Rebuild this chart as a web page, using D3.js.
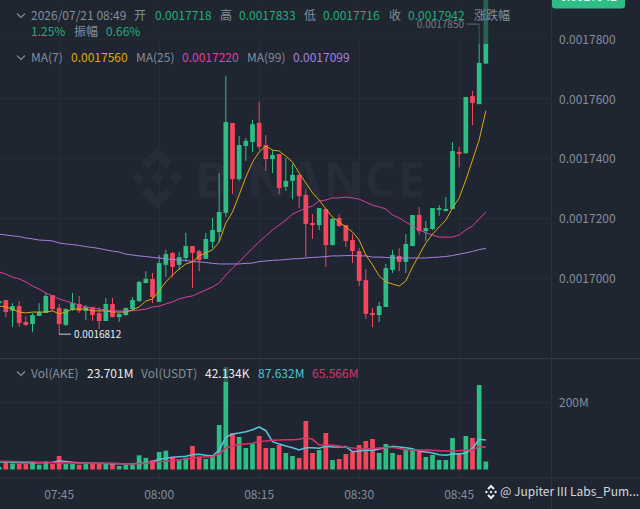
<!DOCTYPE html>
<html lang="en">
<head>
<meta charset="UTF-8">
<title>AKE/USDT 1m</title>
<style>
    html, body { margin: 0; padding: 0; background: #1f2631; overflow: hidden; }
    svg { display: block; }
    text { font-family: "Noto Sans CJK SC", "Noto Sans", sans-serif; }
    .axis path { display: none; }
    .axis line { stroke: #272e39; shape-rendering: crispEdges; }
    .axis text { fill: #848e9c; font-size: 12px; }
</style>
</head>
<body>
<svg id="chart" width="640" height="509"></svg>
<script src="https://d3js.org/d3.v7.min.js"></script>
<script>
// prices are in units of 0.0000001, one entry per minute starting at 07:36
const firstMinute = 456;
const opens = [16916,16926,16890,16906,16853,16846,16873,16883,16943,16900,16843,16893,16913,16890,16903,16883,16856,16913,16869,16876,16896,16923,16983,16997,16920,17044,17084,17044,17067,17107,17090,17064,17121,17154,17218,17519,17331,17442,17455,17519,17445,17398,17415,17305,17325,17345,17278,17184,17177,17231,17110,17201,17177,17127,17090,16993,16883,16876,16903,17027,17074,17054,17107,17211,17157,17164,17228,17224,17231,17422,17418,17609,17582,17718];
const highs = [16926,16926,16916,16923,16873,16883,16916,16950,16943,16913,16900,16950,16940,16910,16903,16903,16933,16933,16883,16900,16936,16990,17023,17017,17077,17094,17087,17087,17151,17107,17094,17151,17201,17351,17676,17519,17475,17469,17529,17589,17479,17428,17415,17402,17382,17345,17298,17214,17234,17231,17201,17214,17177,17147,17100,17030,16900,16920,17047,17094,17100,17147,17211,17238,17191,17234,17244,17271,17455,17439,17606,17626,17850,17942];
const lows = [16913,16869,16836,16836,16839,16819,16873,16883,16890,16812,16839,16890,16883,16859,16856,16829,16856,16869,16853,16873,16893,16920,16983,16916,16920,17003,17003,17027,17054,16967,17023,17064,17100,17121,17204,17281,17325,17392,17422,17428,17358,17351,17281,17291,17264,17234,17070,17131,17161,17037,17110,17171,17104,17050,16973,16863,16836,16853,16903,17017,17023,17017,17107,17144,17124,17161,17208,17224,17231,17371,17415,17512,17582,17716];
const closes = [16923,16886,16906,16849,16843,16876,16886,16940,16896,16846,16896,16916,16890,16903,16876,16856,16913,16869,16880,16900,16926,16987,16997,16936,17050,17080,17037,17070,17107,17084,17060,17131,17161,17221,17522,17331,17445,17459,17515,17439,17398,17412,17301,17325,17345,17274,17181,17177,17234,17110,17198,17174,17124,17090,16990,16880,16876,16906,17033,17077,17054,17114,17211,17157,17167,17234,17234,17231,17425,17415,17606,17586,17720,17942];

const ma7 = [16906,16903,16896,16886,16883,16886,16886,16886,16890,16880,16886,16896,16896,16896,16890,16890,16890,16886,16886,16886,16893,16903,16923,16930,16957,16987,17010,17030,17047,17054,17074,17084,17094,17121,17184,17221,17278,17338,17388,17422,17442,17428,17425,17408,17388,17351,17318,17285,17261,17231,17204,17187,17171,17154,17127,17077,17044,17007,16987,16980,16973,16990,17037,17077,17117,17147,17171,17194,17234,17268,17328,17395,17462,17560];
const ma25 = [17020,17013,17003,16997,16987,16973,16963,16950,16940,16930,16923,16916,16910,16903,16900,16896,16893,16890,16890,16890,16890,16893,16896,16903,16906,16913,16920,16930,16936,16940,16950,16960,16970,16983,17010,17033,17054,17077,17100,17121,17141,17161,17177,17194,17214,17224,17234,17241,17258,17261,17268,17268,17271,17268,17264,17254,17244,17238,17231,17211,17201,17187,17174,17161,17151,17144,17137,17137,17137,17144,17161,17174,17198,17220];
const ma99 = [17147,17144,17141,17139,17134,17131,17127,17126,17124,17117,17114,17112,17109,17105,17102,17099,17094,17090,17087,17080,17077,17074,17072,17069,17067,17064,17062,17060,17059,17055,17054,17052,17049,17047,17047,17047,17047,17049,17050,17055,17057,17059,17060,17062,17064,17065,17067,17069,17070,17072,17074,17074,17075,17075,17074,17074,17070,17070,17069,17067,17067,17067,17067,17067,17067,17069,17070,17072,17075,17080,17084,17089,17095,17099];

// volumes in millions of AKE
const volumes = [7.4,22.2,17.8,16.3,16.3,23.7,14.2,23.7,16.3,40,16.3,16.3,14.2,17.8,17.8,17.8,16.3,17.8,10.4,13.3,14.2,42.1,34.1,27.3,51.9,55.7,35,30.2,35,69.6,37.9,31.1,40.9,131.9,303.7,108.1,96.3,63.7,75.6,99.3,63.7,63.7,72.6,48.9,40,34.1,143.7,48.9,57.8,108.1,28.1,31.1,45.9,51.9,72.6,84.4,90.4,48.9,75.6,48.9,43,60.7,60.7,51.9,37,43,28.1,28.1,93.3,48.9,99.3,93.3,250.4,23.7];
const volMaFast = [22.2,22.2,21.3,20.1,20.1,20.1,20.1,20.7,21.3,25.2,23.7,21.6,20.1,19.3,18.7,18.4,17.8,17.5,17.2,17.2,17.2,18.4,19.3,23.1,30.2,33.2,36.1,37.9,39.1,43.9,45,42.1,40,57.8,95.4,105.2,108.1,112,117.9,125.9,115,82.4,75.6,69.6,64.6,57.8,64.6,64.6,62.8,68.7,66.7,66.7,67.6,52.7,54.8,56.9,56.9,60.7,64.6,68.7,66.7,64.6,61.6,53.9,51.9,48.9,43.9,42.1,45.9,45.9,48.9,62.8,89.5,87.6];
const volMaSlow = [24.3,24,23.7,23.1,22.8,22.2,21.6,20.1,19.9,19.6,19.3,19.3,19.3,18.7,18.4,18.4,18.1,17.8,17.5,16.9,16.3,17.8,18.7,21.3,22.8,24.3,25.8,28.1,31.1,34.1,36.1,37,37.9,45.9,63.7,69.6,73.5,75.6,77.6,83,84.4,86.5,87.4,88.3,88.3,89.5,94.2,89.5,72.6,72.6,71.7,69.6,65.8,63.7,61.6,61.6,62.2,63.7,64.6,65.8,62.2,58.7,58.7,57.8,57.8,56.9,55.7,54.8,54.8,55.7,56.9,57.8,68.7,65.6];

const priceTicks = [17800, 17600, 17400, 17200, 17000];
const volumeTicks = [200];
const timeTicks = [465, 480, 495, 510, 525];
const timeTickLabels = ["07:45", "08:00", "08:15", "08:30", "08:45"];
const highMark = 17850, lowMark = 16812, lastPrice = 17942;

const green = "#2ebd85", red = "#f6465d", gray = "#848e9c", bg = "#1f2631";
const legendGreen = "#25ab7e";

const svg = d3.select("#chart");
const plotRight = 551, paneBottom = 477;

const x = d3.scaleLinear().domain([465, 525]).range([59.17, 459.17]);
const y = d3.scaleLinear().domain([17800, 17000]).range([39, 278]);
const yVol = d3.scaleLinear().domain([0, 200]).range([469.5, 402]);
const fmtPrice = v => (v * 1e-7).toFixed(7);
const xAt = i => x(firstMinute + i);

// axes with their grid lines
svg.append("g").attr("class", "axis").attr("transform", `translate(0,${paneBottom})`)
    .call(d3.axisBottom(x).tickValues(timeTicks).tickSize(-paneBottom).tickPadding(13).offset(0)
        .tickFormat((d, i) => timeTickLabels[i]));
const priceAxis = svg.append("g").attr("class", "axis").attr("transform", `translate(${plotRight},0)`)
    .call(d3.axisRight(y).tickValues(priceTicks).tickSize(0).tickPadding(8).offset(0).tickFormat(fmtPrice));
priceAxis.selectAll(".tick line").attr("x1", -plotRight);
priceAxis.selectAll(".tick text").attr("dy", "0.4em");
const volAxis = svg.append("g").attr("class", "axis").attr("transform", `translate(${plotRight},0)`)
    .call(d3.axisRight(yVol).tickValues(volumeTicks).tickSize(0).tickPadding(8).offset(0).tickFormat(d => d + "M"));
volAxis.selectAll(".tick line").attr("x1", -plotRight);
volAxis.selectAll(".tick text").attr("dy", "0.4em");

// pane borders
svg.append("line").attr("x1", 0).attr("x2", 640).attr("y1", 358).attr("y2", 358)
    .attr("stroke", "#343b47").attr("shape-rendering", "crispEdges");
svg.append("line").attr("x1", 0).attr("x2", 640).attr("y1", paneBottom).attr("y2", paneBottom)
    .attr("stroke", "#2b323d").attr("shape-rendering", "crispEdges");
svg.append("line").attr("x1", plotRight).attr("x2", plotRight).attr("y1", 0).attr("y2", 509)
    .attr("stroke", "#2b323d").attr("shape-rendering", "crispEdges");

// the diamond logo, drawn on a unit box
const logoParts = [
    "M0,-1L.5,-.5L.3,-.3L0,-.6L-.3,-.3L-.5,-.5Z",
    "M0,1L.5,.5L.3,.3L0,.6L-.3,.3L-.5,.5Z",
    "M0,-.2L.2,0L0,.2L-.2,0Z",
    "M-.62,-.2L-.42,0L-.62,.2L-.82,0Z",
    "M.62,-.2L.82,0L.62,.2L.42,0Z"
];
function drawLogo(cx, cy, r, color) {
    svg.append("g").attr("transform", `translate(${cx},${cy}) scale(${r})`)
        .selectAll("path").data(logoParts).enter().append("path")
        .attr("d", d => d).attr("fill", color);
}

// watermark
drawLogo(157, 178, 31, "#262d38");
svg.append("text").text("BINANCE").attr("x", 195).attr("y", 197)
    .attr("font-size", 49).attr("font-weight", 700).style("font-family", "'Open Sans'")
    .attr("textLength", 230).attr("fill", "#262d38");

// candles
const idx = d3.range(opens.length);
const isUp = i => closes[i] >= opens[i];
svg.append("g").selectAll("rect").data(idx).enter().append("rect")
    .attr("x", i => xAt(i) - 0.5).attr("width", 1)
    .attr("y", i => y(highs[i])).attr("height", i => y(lows[i]) - y(highs[i]))
    .attr("fill", i => isUp(i) ? green : red);
svg.append("g").selectAll("rect").data(idx).enter().append("rect")
    .attr("x", i => xAt(i) - 2.35).attr("width", 4.7)
    .attr("y", i => y(Math.max(opens[i], closes[i])))
    .attr("height", i => Math.max(1, Math.abs(y(opens[i]) - y(closes[i]))))
    .attr("fill", i => isUp(i) ? green : red);

// moving averages
const priceLine = d3.line().x((d, i) => xAt(i)).y(d => y(d));
[[ma99, "#a77fe6"], [ma25, "#d93fa0"], [ma7, "#e0a80d"]].forEach(([s, c]) => {
    svg.append("path").attr("d", priceLine(s)).attr("fill", "none").attr("stroke", c).attr("stroke-width", 1);
});

// volume bars and averages
svg.append("g").selectAll("rect").data(volumes).enter().append("rect")
    .attr("x", (d, i) => xAt(i) - 2.35).attr("width", 4.7)
    .attr("y", d => yVol(d)).attr("height", d => yVol(0) - yVol(d))
    .attr("fill", (d, i) => isUp(i) ? green : red);
const volLine = d3.line().x((d, i) => xAt(i)).y(d => yVol(d));
[[volMaFast, "#58c3d8"], [volMaSlow, "#d6336c"]].forEach(([s, c]) => {
    svg.append("path").attr("d", volLine(s)).attr("fill", "none").attr("stroke", c).attr("stroke-width", 1.6);
});

// high and low markers
svg.append("line").attr("x1", 467).attr("x2", 479).attr("y1", y(highMark)).attr("y2", y(highMark))
    .attr("stroke", "#c9ced6");
svg.append("text").text(fmtPrice(highMark)).attr("x", 464).attr("y", y(highMark)).attr("dy", "0.35em")
    .attr("text-anchor", "end").attr("font-size", 10).attr("fill", "#eaecef");
svg.append("line").attr("x1", 59).attr("x2", 71).attr("y1", y(lowMark)).attr("y2", y(lowMark))
    .attr("stroke", "#c9ced6");
svg.append("text").text(fmtPrice(lowMark)).attr("x", 74).attr("y", y(lowMark)).attr("dy", "0.35em")
    .attr("font-size", 10).attr("fill", "#eaecef");

// legend backing dims whatever runs underneath it
svg.append("rect").attr("x", 0).attr("y", 0).attr("width", plotRight).attr("height", 44)
    .attr("fill", bg).attr("opacity", 0.6);
svg.append("rect").attr("x", 0).attr("y", 366).attr("width", 362).attr("height", 16)
    .attr("fill", bg).attr("opacity", 0.6);

// legend rows
function chevron(cy) {
    svg.append("path").attr("d", `M17,${cy - 2.5}L21,${cy + 1.5}L25,${cy - 2.5}`)
        .attr("fill", "none").attr("stroke", gray).attr("stroke-width", 1.1);
}
function label(txt, px, py, color, weight) {
    svg.append("text").text(txt).attr("x", px).attr("y", py).attr("dy", "0.35em")
        .attr("font-size", 12).attr("fill", color).attr("font-weight", weight || 400);
}
chevron(16);
label("2026/07/21 08:49", 31, 16, gray);
label("开", 134, 16, gray);
label("0.0017718", 155, 16, legendGreen);
label("高", 220, 16, gray);
label("0.0017833", 239, 16, legendGreen);
label("低", 304, 16, gray);
label("0.0017716", 323, 16, legendGreen);
label("收", 389, 16, gray);
label("0.0017942", 408, 16, legendGreen);
label("涨跌幅", 474, 16, gray);
label("1.25%", 31, 32, legendGreen);
label("振幅", 74, 32, gray);
label("0.66%", 106, 32, legendGreen);

chevron(58);
label("MA(7)", 31, 58, gray);
label("0.0017560", 71, 58, "#e0a80d");
label("MA(25)", 136, 58, gray);
label("0.0017220", 182, 58, "#e23ca6");
label("MA(99)", 247, 58, gray);
label("0.0017099", 293, 58, "#a77fe6");

chevron(374);
label("Vol(AKE)", 31, 374, gray);
label("23.701M", 87, 374, "#eaecef");
label("Vol(USDT)", 141, 374, gray);
label("42.134K", 205, 374, "#eaecef");
label("87.632M", 258, 374, "#4fc1d9");
label("65.566M", 312, 374, "#d9346d");

// last price tag
svg.append("rect").attr("x", 552).attr("y", y(lastPrice) - 12).attr("width", 73).attr("height", 24)
    .attr("rx", 3).attr("fill", green);
svg.append("text").text(fmtPrice(lastPrice)).attr("x", 588.5).attr("y", y(lastPrice)).attr("dy", "0.35em")
    .attr("text-anchor", "middle").attr("font-size", 12).attr("fill", "#ffffff");

// signature
drawLogo(491, 492, 7.5, "#eaecef");
svg.append("text").text("@ Jupiter III Labs_Pum...").attr("x", 500).attr("y", 492).attr("dy", "0.35em")
    .attr("font-size", 12).attr("fill", "#d5d9df");
</script>
</body>
</html>
